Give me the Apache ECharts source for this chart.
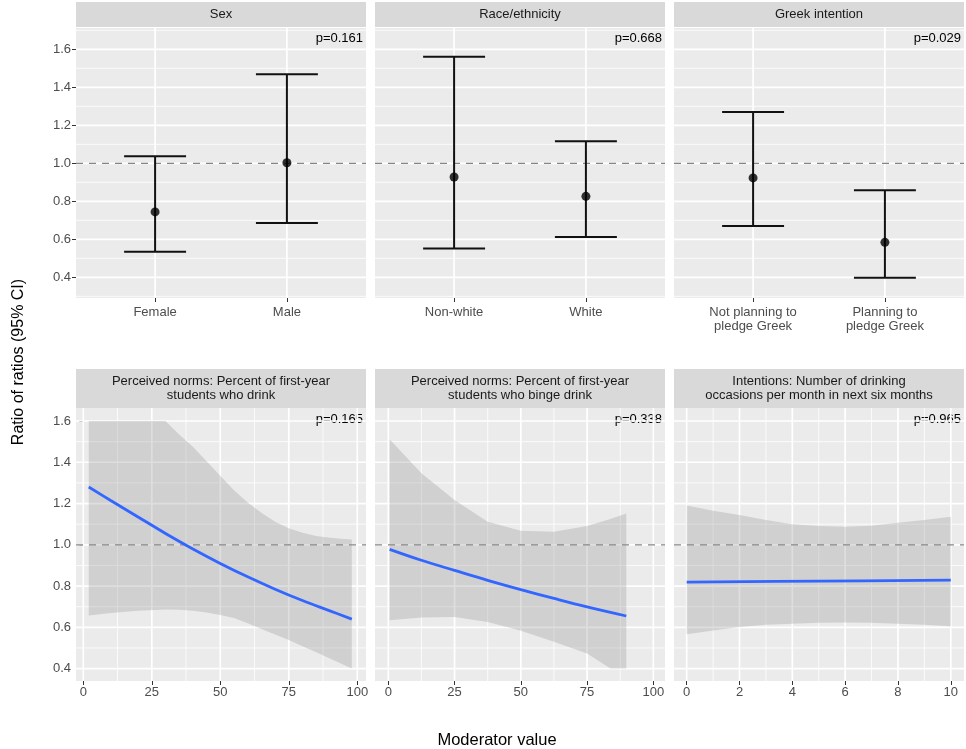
<!DOCTYPE html>
<html>
<head>
<meta charset="utf-8">
<script src="https://cdn.jsdelivr.net/npm/echarts@6/dist/echarts.min.js"></script>
<style>
html,body{margin:0;padding:0;background:#fff;}
#chart{width:966px;height:749px;}
</style>
</head>
<body>
<div id="chart"></div>
<script>
// ---------------- DATA ----------------
const sexCats = ['Female', 'Male'];
const sexEst = [0.744, 1.003];
const sexLo = [0.535, 0.686];
const sexHi = [1.037, 1.468];

const raceCats = ['Non-white', 'White'];
const raceEst = [0.928, 0.826];
const raceLo = [0.551, 0.612];
const raceHi = [1.561, 1.116];

const greekCats = ['Not planning to\npledge Greek', 'Planning to\npledge Greek'];
const greekEst = [0.923, 0.584];
const greekLo = [0.670, 0.398];
const greekHi = [1.270, 0.858];

// Perceived norms: drink
const drinkX = [2, 10, 20, 30, 40, 50, 60, 70, 80, 90, 98];
const drinkFit = [1.28, 1.215, 1.135, 1.055, 0.98, 0.91, 0.845, 0.785, 0.73, 0.68, 0.64];
const drinkRibX = [2, 10, 20, 30, 35, 40, 45, 50, 55, 60, 65, 70, 75, 80, 85, 90, 95, 98];
const drinkRibHi = [1.6, 1.6, 1.6, 1.6, 1.535, 1.475, 1.405, 1.335, 1.265, 1.205, 1.155, 1.112, 1.08, 1.058, 1.043, 1.034, 1.028, 1.026];
const drinkRibLo = [0.657, 0.67, 0.68, 0.686, 0.685, 0.68, 0.672, 0.66, 0.645, 0.62, 0.592, 0.565, 0.539, 0.509, 0.479, 0.449, 0.419, 0.4];

// Perceived norms: binge drink
const bingeX = [0.5, 12.5, 25, 37.5, 50, 62.5, 75, 89.8];
const bingeFit = [0.978, 0.925, 0.876, 0.828, 0.783, 0.740, 0.699, 0.655];
const bingeRibX = [0.5, 12.5, 25, 37.5, 50, 62.5, 75, 83.8, 89.8];
const bingeRibHi = [1.512, 1.347, 1.217, 1.112, 1.068, 1.063, 1.091, 1.125, 1.152];
const bingeRibLo = [0.634, 0.648, 0.65, 0.626, 0.584, 0.53, 0.473, 0.4, 0.4];

// Intentions
const intX = [0, 5, 10];
const intFit = [0.819, 0.824, 0.829];
const intRibX = [0, 1, 2, 3, 4, 5, 6, 7, 8, 9, 10];
const intRibHi = [1.19, 1.165, 1.144, 1.12, 1.10, 1.091, 1.087, 1.092, 1.107, 1.12, 1.136];
const intRibLo = [0.567, 0.585, 0.602, 0.612, 0.618, 0.622, 0.623, 0.622, 0.618, 0.612, 0.605];

const yTicks = [0.4, 0.6, 0.8, 1.0, 1.2, 1.4, 1.6];
const yMinorTop = [0.3, 0.5, 0.7, 0.9, 1.1, 1.3, 1.5, 1.7];
const yMinorBottom = [0.5, 0.7, 0.9, 1.1, 1.3, 1.5];
const pctTicks = [0, 25, 50, 75, 100];
const pctMinor = [12.5, 37.5, 62.5, 87.5];
const intTicks = [0, 2, 4, 6, 8, 10];
const intMinor = [1, 3, 5, 7, 9];

const stripTop = ['Sex', 'Race/ethnicity', 'Greek intention'];
const stripBottom = ['Perceived norms: Percent of first-year\nstudents who drink',
                     'Perceived norms: Percent of first-year\nstudents who binge drink',
                     'Intentions: Number of drinking\noccasions per month in next six months'];
const pTop = ['p=0.161', 'p=0.668', 'p=0.029'];
const pBottom = ['p=0.165', 'p=0.338', 'p=0.965'];

// ---------------- LAYOUT ----------------
const FONT = '"Liberation Sans", Arial, Helvetica, sans-serif';
const colLeft = [76, 375, 674];
const colW = 290;
const rowTop = { stripY: 2, stripH: 25, plotY: 28, plotH: 270, yMin: 0.291, yMax: 1.712 };
const rowBot = { stripY: 369, stripH: 39, plotY: 408, plotH: 273, yMin: 0.34, yMax: 1.663 };
const botXRange = [[-2.66, 103.18], [-5.02, 104.4], [-0.48, 10.5]];

const grids = [], xAxes = [], yAxes = [], series = [], graphics = [];

function addGrid(row, col) {
  grids.push({ left: colLeft[col], top: row.plotY, width: colW, height: row.plotH,
    show: true, backgroundColor: '#EBEBEB', borderWidth: 0, containLabel: false });
}

function yAxisFor(idx, row, col) {
  yAxes.push({
    type: 'value', gridIndex: idx, min: row.yMin, max: row.yMax,
    axisLine: { show: false }, splitLine: { show: false },
    axisTick: { show: col === 0, length: 4, lineStyle: { color: '#333', width: 1 }, customValues: yTicks },
    axisLabel: { show: col === 0, customValues: yTicks, color: '#4D4D4D', fontSize: 13, fontFamily: FONT, margin: 5,
      formatter: v => Number(v).toFixed(1) }
  });
}

function gridLines(idx, hMaj, hMin, vMaj, vMin, xRef, yRef) {
  const data = [];
  hMaj.forEach(v => data.push([xRef, v, 0, 1]));
  hMin.forEach(v => data.push([xRef, v, 0, 0]));
  vMaj.forEach(v => data.push([v, yRef, 1, 1]));
  vMin.forEach(v => data.push([v, yRef, 1, 0]));
  series.push({
    type: 'custom', xAxisIndex: idx, yAxisIndex: idx, z: 1, silent: true, clip: false,
    encode: { x: 0, y: 1 }, data: data,
    renderItem: function (params, api) {
      const cs = params.coordSys;
      const pt = api.coord([api.value(0), api.value(1)]);
      const lw = api.value(3) ? 1.7 : 0.8;
      if (api.value(2) === 0) {
        return { type: 'line', shape: { x1: cs.x, y1: pt[1], x2: cs.x + cs.width, y2: pt[1] },
          style: { stroke: '#FFFFFF', lineWidth: lw } };
      }
      return { type: 'line', shape: { x1: pt[0], y1: cs.y, x2: pt[0], y2: cs.y + cs.height },
        style: { stroke: '#FFFFFF', lineWidth: lw } };
    }
  });
}

function refLine(idx, xRef) {
  series.push({
    type: 'custom', xAxisIndex: idx, yAxisIndex: idx, z: 3, silent: true, clip: false,
    encode: { x: 0, y: 1 }, data: [[xRef, 1.0]],
    renderItem: function (params, api) {
      const cs = params.coordSys;
      const pt = api.coord([api.value(0), api.value(1)]);
      return { type: 'line', shape: { x1: cs.x, y1: pt[1], x2: cs.x + cs.width, y2: pt[1] },
        style: { stroke: '#858585', lineWidth: 1.3, lineDash: [7, 6] } };
    }
  });
}

function strip(row, col, text) {
  graphics.push({ type: 'rect', shape: { x: colLeft[col], y: row.stripY, width: colW, height: row.stripH },
    style: { fill: '#D9D9D9' }, silent: true });
  graphics.push({ type: 'text', x: colLeft[col] + colW / 2, y: row.stripY + row.stripH / 2,
    style: { text: text, fill: '#1A1A1A', font: '13px ' + FONT, align: 'center', verticalAlign: 'middle', lineHeight: 14.5 },
    silent: true });
}

function pLabel(row, col, text, dy) {
  graphics.push({ type: 'text', x: colLeft[col] + colW - 3, y: row.plotY + dy,
    style: { text: text, fill: '#000000', font: '13px ' + FONT, align: 'right', verticalAlign: 'middle' }, silent: true });
}

// ---------------- TOP ROW ----------------
const topSets = [
  [sexCats, sexEst, sexLo, sexHi],
  [raceCats, raceEst, raceLo, raceHi],
  [greekCats, greekEst, greekLo, greekHi]
];
topSets.forEach(function (set, col) {
  const idx = col;
  const cats = set[0], est = set[1], lo = set[2], hi = set[3];
  addGrid(rowTop, col);
  const pos = cats.map((c, i) => i + 1);
  xAxes.push({
    type: 'value', gridIndex: idx, min: 0.4, max: 2.6,
    axisLine: { show: false }, splitLine: { show: false },
    axisTick: { show: true, length: 4, lineStyle: { color: '#333', width: 1 }, customValues: pos },
    axisLabel: { customValues: pos, color: '#4D4D4D', fontSize: 13, fontFamily: FONT, margin: 7, lineHeight: 14,
      formatter: v => cats[Math.round(v) - 1] }
  });
  yAxisFor(idx, rowTop, col);
  gridLines(idx, yTicks, yMinorTop, pos, [], 0.4, rowTop.yMin);
  refLine(idx, 0.4);
  series.push({
    type: 'custom', xAxisIndex: idx, yAxisIndex: idx, z: 4, silent: true,
    encode: { x: 0, y: [1, 2] },
    data: pos.map((p, i) => [p, lo[i], hi[i]]),
    renderItem: function (params, api) {
      const x = api.value(0);
      const pLo = api.coord([x, api.value(1)]);
      const pHi = api.coord([x, api.value(2)]);
      const hw = api.size([0.47, 0])[0] / 2;
      const st = { stroke: '#111111', lineWidth: 2 };
      return { type: 'group', children: [
        { type: 'line', shape: { x1: pHi[0], y1: pHi[1], x2: pLo[0], y2: pLo[1] }, style: st },
        { type: 'line', shape: { x1: pHi[0] - hw, y1: pHi[1], x2: pHi[0] + hw, y2: pHi[1] }, style: st },
        { type: 'line', shape: { x1: pLo[0] - hw, y1: pLo[1], x2: pLo[0] + hw, y2: pLo[1] }, style: st }
      ] };
    }
  });
  series.push({
    type: 'scatter', xAxisIndex: idx, yAxisIndex: idx, z: 5, silent: true,
    symbolSize: 9, itemStyle: { color: '#000000' },
    data: pos.map((p, i) => [p, est[i]])
  });
  strip(rowTop, col, stripTop[col]);
  pLabel(rowTop, col, pTop[col], 10);
});

// ---------------- BOTTOM ROW ----------------
const botSets = [
  [drinkX, drinkFit, drinkRibX, drinkRibHi, drinkRibLo, pctTicks, pctMinor],
  [bingeX, bingeFit, bingeRibX, bingeRibHi, bingeRibLo, pctTicks, pctMinor],
  [intX, intFit, intRibX, intRibHi, intRibLo, intTicks, intMinor]
];
botSets.forEach(function (set, col) {
  const idx = 3 + col;
  const fx = set[0], fy = set[1], rx = set[2], rh = set[3], rl = set[4], ticks = set[5], minor = set[6];
  addGrid(rowBot, col);
  const xr = botXRange[col];
  xAxes.push({
    type: 'value', gridIndex: idx, min: xr[0], max: xr[1],
    axisLine: { show: false }, splitLine: { show: false },
    axisTick: { show: true, length: 4, lineStyle: { color: '#333', width: 1 }, customValues: ticks },
    axisLabel: { customValues: ticks, color: '#4D4D4D', fontSize: 13, fontFamily: FONT, margin: 5 }
  });
  yAxisFor(idx, rowBot, col);
  gridLines(idx, yTicks, yMinorBottom, ticks, minor, xr[0], rowBot.yMin);
  // ribbon
  series.push({
    type: 'custom', xAxisIndex: idx, yAxisIndex: idx, z: 2, silent: true, clip: false,
    encode: { x: 0, y: 1 }, data: [[rx[0], rl[0]]],
    renderItem: function (params, api) {
      const pts = [];
      for (let k = 0; k < rx.length; k++) pts.push(api.coord([rx[k], rh[k]]));
      for (let k = rx.length - 1; k >= 0; k--) pts.push(api.coord([rx[k], rl[k]]));
      return { type: 'polygon', shape: { points: pts }, style: { fill: 'rgba(153,153,153,0.32)' } };
    }
  });
  refLine(idx, xr[0]);
  series.push({
    type: 'line', xAxisIndex: idx, yAxisIndex: idx, z: 5, silent: true,
    showSymbol: false, smooth: 0.4,
    lineStyle: { color: '#3366FF', width: 2.8 },
    data: fx.map((x, i) => [x, fy[i]])
  });
  strip(rowBot, col, stripBottom[col]);
  pLabel(rowBot, col, pBottom[col], 11);
});

// axis titles
graphics.push({ type: 'text', x: 19, y: 362, rotation: Math.PI / 2,
  style: { text: 'Ratio of ratios (95% CI)', fill: '#000000', font: '16px ' + FONT, align: 'center', verticalAlign: 'middle' }, silent: true });
graphics.push({ type: 'text', x: 497, y: 740,
  style: { text: 'Moderator value', fill: '#000000', font: '16.5px ' + FONT, align: 'center', verticalAlign: 'middle' }, silent: true });

const chart = echarts.init(document.getElementById('chart'), null, { renderer: 'canvas' });
chart.setOption({
  animation: false,
  backgroundColor: '#FFFFFF',
  textStyle: { fontFamily: FONT },
  grid: grids,
  xAxis: xAxes,
  yAxis: yAxes,
  series: series,
  graphic: graphics
});
</script>
</body>
</html>
